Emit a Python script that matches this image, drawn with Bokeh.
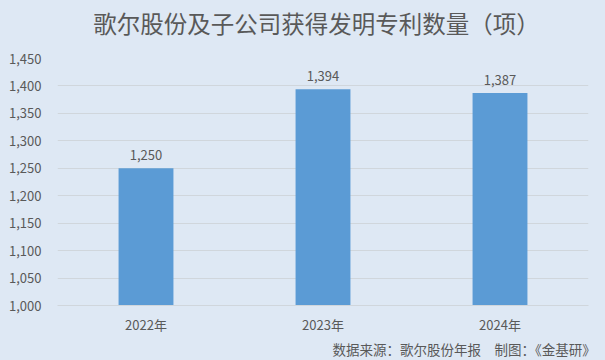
from bokeh.plotting import figure
from bokeh.layouts import column
from bokeh.models import ColumnDataSource, Range1d, FactorRange, LabelSet, NumeralTickFormatter, Title, FixedTicker
from bokeh.core.properties import value
from bokeh.embed import file_html
from bokeh.resources import INLINE

years = ["2022年", "2023年", "2024年"]
patents = [1250, 1394, 1387]
labels = ["1,250", "1,394", "1,387"]
y_ticks = [1000, 1050, 1100, 1150, 1200, 1250, 1300, 1350, 1400, 1450]
title_text = "歌尔股份及子公司获得发明专利数量（项）"
footer_text = "数据来源：歌尔股份年报\u3000制图：《金基研》"

BG = "#dee8f4"
TXT = "#595959"
FONT = "Noto Sans CJK SC"

# header strip holding the title
h = figure(width=605, height=48, x_range=Range1d(0, 605), y_range=Range1d(0, 48),
           output_backend="svg", toolbar_location=None, x_axis_type=None, y_axis_type=None,
           min_border=0)
h.background_fill_color = BG
h.border_fill_color = BG
h.outline_line_color = None
h.xgrid.grid_line_color = None
h.ygrid.grid_line_color = None
h.text(x=[295], y=[26], text=[title_text], text_align="center", text_baseline="middle",
       text_font=value(FONT), text_font_size="23.5px", text_color=TXT)

src = ColumnDataSource(dict(x=years, y=patents, lab=labels))

p = figure(width=605, height=312, x_range=FactorRange(*years), y_range=Range1d(1000, 1450),
           output_backend="svg", toolbar_location=None,
           min_border_left=57, min_border_right=17, min_border_top=10, min_border_bottom=55)
p.background_fill_color = BG
p.border_fill_color = BG
p.outline_line_color = None

p.vbar(x="x", top="y", bottom=1000, width=0.31, source=src, fill_color="#5b9bd5", line_color=None)

p.add_layout(LabelSet(x="x", y="y", text="lab", source=src, text_align="center", text_baseline="bottom",
                      y_offset=8, text_font=value(FONT), text_font_size=value("13px"), text_color=TXT))

p.yaxis.ticker = FixedTicker(ticks=y_ticks)
p.yaxis.formatter = NumeralTickFormatter(format="0,0")
p.yaxis.axis_line_color = None
p.yaxis.major_tick_line_color = None
p.yaxis.minor_tick_line_color = None
p.yaxis.major_label_text_font = FONT
p.yaxis.major_label_text_font_size = "13px"
p.yaxis.major_label_text_color = TXT
p.yaxis.major_label_standoff = 10

p.xaxis.axis_line_color = "#d0d6dc"
p.xaxis.major_tick_line_color = None
p.xaxis.minor_tick_line_color = None
p.xaxis.major_label_text_font = FONT
p.xaxis.major_label_text_font_size = "13px"
p.xaxis.major_label_text_color = TXT
p.xaxis.major_label_standoff = 3

p.xgrid.grid_line_color = None
p.ygrid.grid_line_color = "#d0d6dc"

foot = Title(text=footer_text, align="left", text_font=FONT,
             text_font_size="13.5px", text_font_style="normal", text_color=TXT,
             standoff=0, offset=275)
p.add_layout(foot, "below")

layout = column(h, p, spacing=0)
layout.background = BG
open("out.html", "w").write(file_html(layout, INLINE))
